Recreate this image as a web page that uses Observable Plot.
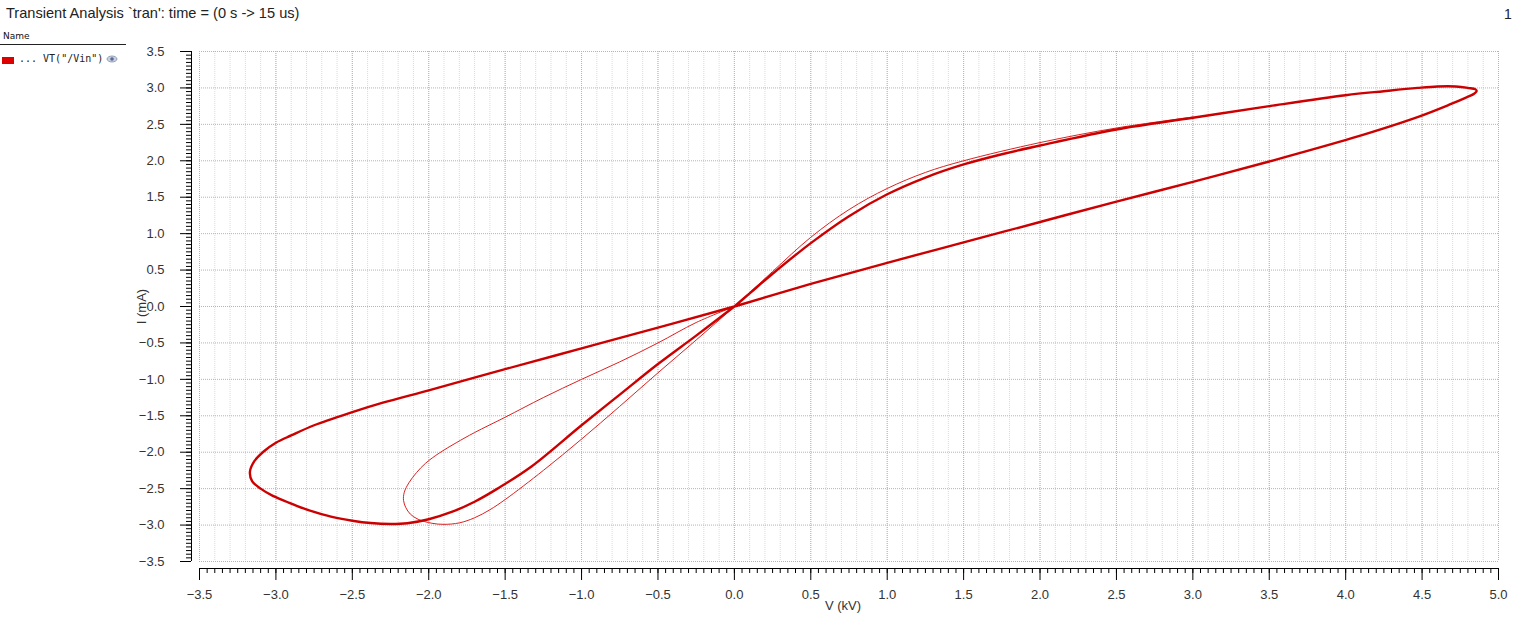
<!DOCTYPE html>
<html>
<head>
<meta charset="utf-8">
<script src="https://cdn.jsdelivr.net/npm/d3@7"></script>
<script src="https://cdn.jsdelivr.net/npm/@observablehq/plot@0.6"></script>
<style>
  html, body { margin: 0; padding: 0; background: #fff; }
  #wrap { position: relative; width: 1522px; height: 618px; overflow: hidden; font-family: "Liberation Sans", Arial, sans-serif; }
  #chart { position: absolute; left: 0; top: 0; }
  #title { position: absolute; left: 6px; top: 5px; font-size: 14.6px; color: #222; white-space: pre; }
  #page { position: absolute; left: 1504px; top: 6px; font-size: 14px; color: #222; }
  #legend { position: absolute; left: 0; top: 31px; width: 126px; }
  #legend .hdr { font-size: 9px; color: #111; padding-left: 3px; height: 13px; border-bottom: 1px solid #222; font-family: "DejaVu Sans", sans-serif; }
  #legend .row { position: relative; height: 20px; margin-top: 12px; }
  #legend .sw { position: absolute; left: 2px; top: 0px; width: 12px; height: 7px; background: #dd0000; }
  #legend .lbl { position: absolute; left: 19px; top: -4px; font-size: 10px; font-family: "DejaVu Sans Mono", monospace; color: #222; white-space: pre; }
  #legend svg { position: absolute; left: 106px; top: -3px; }
</style>
</head>
<body>
<div id="wrap">
  <div id="chart"></div>
  <div id="title">Transient Analysis `tran': time = (0 s -&gt; 15 us)</div>
  <div id="page">1</div>
  <div id="legend">
    <div class="hdr">Name</div>
    <div class="row"><div class="sw"></div><div class="lbl">... VT("/Vin")</div>
      <svg width="12" height="10" viewBox="0 0 12 10"><ellipse cx="6" cy="5" rx="5" ry="3" fill="#c8d0e0" stroke="#8090b0" stroke-width="0.8"/><circle cx="6" cy="5" r="1.8" fill="#5a6a90"/></svg>
    </div>
  </div>
</div>
<script>
// Tick values
const xMajor = d3.range(-3.5, 5.0001, 0.5).map(v => +v.toFixed(2));
const xMinor = d3.range(-3.5, 5.0001, 0.1).map(v => +v.toFixed(2));
const xTickMinor = d3.range(-3.5, 5.0001, 0.05).map(v => +v.toFixed(3));
const yMajor = d3.range(-3.5, 3.5001, 0.5).map(v => +v.toFixed(2));
const yTickMinor = d3.range(-3.5, 3.5001, 0.05).map(v => +v.toFixed(3));

// Steady-state loop (thick trace): V (kV), I (mA)
const thickV = [0,0.1,0.25,0.5,0.75,1.0,1.25,1.5,1.75,2.0,2.5,3.0,3.5,4.0,4.25,4.47,4.6,4.72,4.8,4.85,4.857,4.84,4.78,4.69,4.47,4.04,3.5,3.0,2.5,2.0,1.5,1.0,0.5,0,
  -0.5,-1.0,-1.5,-2.0,-2.3,-2.5,-2.75,-2.9,-3.0,-3.08,-3.14,-3.17,-3.155,-3.1,-3.02,-2.93,-2.86,-2.75,-2.64,-2.5,-2.38,-2.25,-2.14,-2.0,-1.85,-1.7,-1.55,-1.33,-1.0,-0.75,-0.5,-0.25,0];
const thickI = [0,0.18,0.45,0.87,1.24,1.54,1.77,1.95,2.09,2.21,2.43,2.59,2.75,2.9,2.955,3.0,3.02,3.02,3.0,2.98,2.955,2.92,2.86,2.78,2.6,2.31,1.99,1.71,1.44,1.16,0.88,0.6,0.31,0,
  -0.29,-0.575,-0.86,-1.15,-1.32,-1.45,-1.63,-1.77,-1.87,-1.99,-2.12,-2.27,-2.4,-2.5,-2.6,-2.68,-2.74,-2.82,-2.885,-2.94,-2.972,-2.985,-2.975,-2.92,-2.82,-2.68,-2.5,-2.2,-1.63,-1.21,-0.79,-0.4,0];

// First-cycle trace (thin)
const thinV = [0,-0.25,-0.5,-0.75,-1.0,-1.25,-1.5,-1.7,-1.82,-1.93,-2.02,-2.08,-2.13,-2.16,-2.165,-2.15,-2.12,-2.07,-1.98,-1.9,-1.8,-1.7,-1.6,-1.5,-1.25,-1.0,-0.75,-0.5,-0.25,0,
  0.25,0.5,0.75,1.0,1.25,1.5,2.0,2.5,3.0];
const thinI = [0,-0.22,-0.5,-0.76,-1.0,-1.25,-1.52,-1.73,-1.87,-2.01,-2.15,-2.28,-2.42,-2.55,-2.66,-2.76,-2.85,-2.92,-2.975,-2.99,-2.97,-2.9,-2.79,-2.65,-2.25,-1.82,-1.37,-0.91,-0.46,0,
  0.48,0.95,1.33,1.62,1.84,2.0,2.25,2.45,2.6];

const thick = thickV.map((v, i) => ({V: v, I: thickI[i]}));
const thin = thinV.map((v, i) => ({V: v, I: thinI[i]}));

const font = "Liberation Sans, Arial, sans-serif";

const chart = Plot.plot({
  width: 1522,
  height: 618,
  marginLeft: 199,
  marginRight: 24,
  marginTop: 51,
  marginBottom: 57,
  style: {fontFamily: font, fontSize: "13px", background: "transparent", color: "#333"},
  x: {domain: [-3.5, 5.0], label: null},
  y: {domain: [-3.5, 3.5], label: null},
  marks: [
    // grid
    Plot.ruleX(xMinor, {stroke: "#dadada", strokeDasharray: "1,1", strokeWidth: 1}),
    Plot.ruleX(xMajor, {stroke: "#b4b4b4", strokeDasharray: "1,1", strokeWidth: 1}),
    Plot.ruleY(yMajor, {stroke: "#b4b4b4", strokeDasharray: "1,1", strokeWidth: 1}),
    // y axis (offset left of the frame)
    Plot.axisY(yTickMinor, {tickSize: 5, dx: -8, tickFormat: () => "", stroke: "#000", label: null}),
    Plot.axisY(yMajor, {tickSize: 11, dx: -8, tickPadding: 16, tickFormat: d3.format(".1f"), stroke: "#000", fill: "#333", label: null}),
    Plot.ruleX([-3.5], {y1: -3.5, y2: 3.5, dx: -8, stroke: "#000"}),
    // x axis (offset below the frame)
    Plot.axisX(xTickMinor, {tickSize: 5, dy: 7, tickFormat: () => "", stroke: "#000", label: null}),
    Plot.axisX(xMajor, {tickSize: 12, dy: 7, tickPadding: 9, tickFormat: d3.format(".1f"), stroke: "#000", fill: "#333", label: null}),
    Plot.ruleY([-3.5], {x1: -3.5, x2: 5.0, dy: 7, stroke: "#000"}),
    // axis labels
    Plot.text(["I (mA)"], {x: -3.5, y: 0, dx: -58, rotate: -90, text: d => d, fill: "#333", fontSize: 13}),
    Plot.text(["V (kV)"], {frameAnchor: "bottom", dx: -6, dy: 48, text: d => d, fill: "#333", fontSize: 13}),
    // traces
    Plot.line(thin, {x: "V", y: "I", stroke: "#dd2020", strokeWidth: 1, curve: "catmull-rom"}),
    Plot.line(thick, {x: "V", y: "I", stroke: "#cc0000", strokeWidth: 2.4, curve: "catmull-rom"})
  ]
});
document.getElementById("chart").appendChild(chart);
</script>
</body>
</html>
